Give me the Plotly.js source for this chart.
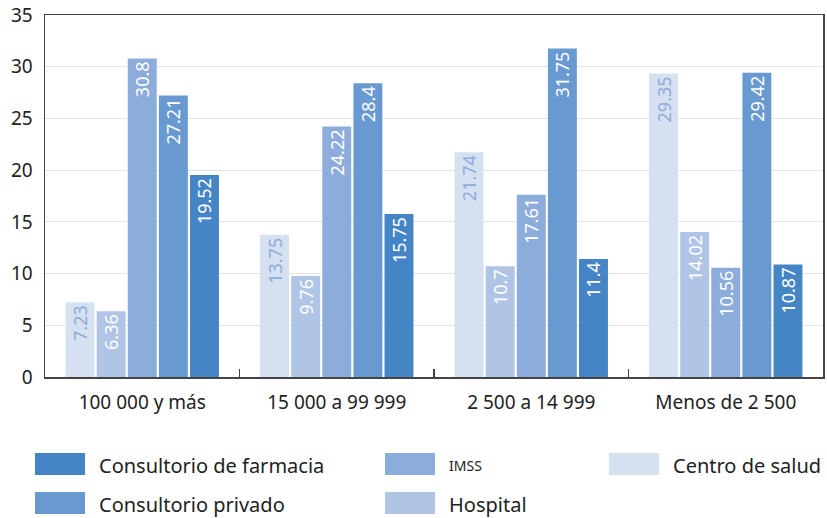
<!DOCTYPE html>
<html><head><meta charset="utf-8">
<script src="https://cdn.plot.ly/plotly-3.0.1.min.js"></script>
<style>html,body{margin:0;padding:0;background:#fff}#c{width:827px;height:518px}</style>
</head><body><div id="c"></div>
<script>
var categories = ["100 000 y más", "15 000 a 99 999", "2 500 a 14 999", "Menos de 2 500"];
var seriesNames = ["Centro de salud", "Hospital", "IMSS", "Consultorio privado", "Consultorio de farmacia"];
var centroSalud = [7.23, 13.75, 21.74, 29.35];
var hospital = [6.36, 9.76, 10.7, 14.02];
var imss = [30.8, 24.22, 17.61, 10.56];
var consultorioPrivado = [27.21, 28.4, 31.75, 29.42];
var consultorioFarmacia = [19.52, 15.75, 11.4, 10.87];
var yTicks = [0, 5, 10, 15, 20, 25, 30, 35];

var values = [centroSalud, hospital, imss, consultorioPrivado, consultorioFarmacia];
var colors = ["#d5e0f1", "#b0c5e5", "#8cacdb", "#6899d0", "#4585c5"];
var textColors = ["#8cacdb", "#ffffff", "#ffffff", "#ffffff", "#ffffff"];
var FONT = "Noto Sans, Open Sans, sans-serif";

var traces = values.map(function (v, i) {
  return {
    type: "bar", x: categories, y: v, name: seriesNames[i],
    marker: {color: colors[i]},
    text: v.map(String), textposition: "inside", insidetextanchor: "end",
    textangle: -90, constraintext: "none",
    textfont: {family: FONT, size: 18, color: textColors[i]},
    hoverinfo: "x+y+name", showlegend: false
  };
});

// Legend (3 columns x 2 rows) drawn with shapes + annotations
var legendOrder = [4, 3, 2, 1, 0]; // farmacia, privado, IMSS, hospital, centro
var legendPos = [
  {x: 35, y: 464}, {x: 35, y: 503},
  {x: 385, y: 464}, {x: 385, y: 503},
  {x: 609, y: 464}
];
var W = 827, H = 518, mL = 45, mR = 4, mT = 15, mB = 141;
var pw = W - mL - mR, ph = H - mT - mB;
function px2x(p) { return (p - mL) / pw; }
function py2y(p) { return (H - mB - p) / ph; }
var shapes = [], annotations = [];
legendOrder.forEach(function (si, k) {
  var p = legendPos[k];
  shapes.push({type: "rect", xref: "paper", yref: "paper",
    x0: px2x(p.x), x1: px2x(p.x + 50), y0: py2y(p.y - 11), y1: py2y(p.y + 11),
    fillcolor: colors[si], line: {width: 0}});
  var isImss = seriesNames[si] === "IMSS";
  annotations.push({xref: "paper", yref: "paper", x: px2x(p.x + 62), y: py2y(p.y + 1),
    xanchor: "left", yanchor: "middle", showarrow: false,
    text: seriesNames[si],
    font: {family: FONT, size: isImss ? 14 : 20, color: "#222"}});
});

var layout = {
  width: W, height: H,
  margin: {l: mL, r: mR, t: mT, b: mB, pad: 0},
  paper_bgcolor: "#fff", plot_bgcolor: "#fff",
  barmode: "group", bargap: 0.2, bargroupgap: 0.07,
  showlegend: false,
  font: {family: FONT, color: "#222"},
  xaxis: {
    type: "category", showline: true, linecolor: "#444", linewidth: 1.5, mirror: true,
    ticks: "inside", tickson: "boundaries", ticklen: 8, tickcolor: "#444", tickwidth: 1.2,
    tickfont: {family: FONT, size: 19, color: "#222"}, ticklabelstandoff: 8,
    showgrid: false, fixedrange: true
  },
  yaxis: {
    range: [0, 35], tickvals: yTicks, ticktext: yTicks.map(String),
    showline: true, linecolor: "#444", linewidth: 1.5, mirror: true,
    ticks: "", showgrid: true, gridcolor: "#e4e4e4", gridwidth: 1.2, zeroline: false,
    tickfont: {family: FONT, size: 19, color: "#222"}, ticklabelstandoff: 7, fixedrange: true
  },
  shapes: shapes, annotations: annotations
};
Plotly.newPlot("c", traces, layout, {displayModeBar: false, staticPlot: true});
</script></body></html>
